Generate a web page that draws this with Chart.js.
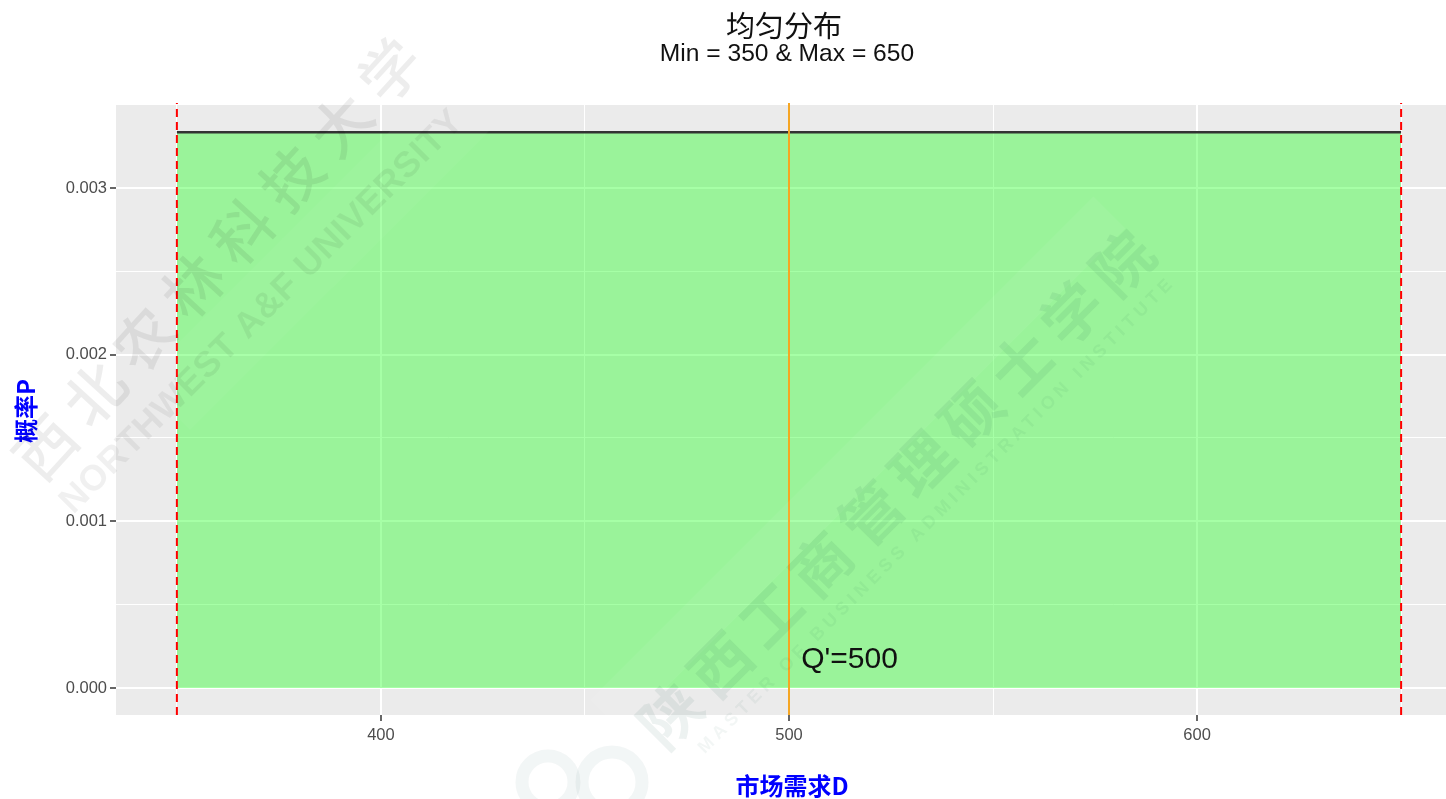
<!DOCTYPE html>
<html>
<head>
<meta charset="utf-8">
<style>
  body { margin: 0; background: #fff; }
  canvas { display: block; }
</style>
<script src="https://cdn.jsdelivr.net/npm/chart.js@4"></script>
</head>
<body>
<canvas id="uniform" width="1446" height="799"></canvas>
<script>
// data
let densityX = [350, 650]
let densityY = [0.003335, 0.003335]
let minLineX = [350, 350]
let maxLineX = [650, 650]
let orderLineX = [500, 500]
let lineY = [-0.000162, 0.00351]
let xTicks = [350, 400, 450, 500, 550, 600, 650]
let xLabels = ['', '400', '', '500', '', '600', '']
let yTicks = [0, 0.0005, 0.001, 0.0015, 0.002, 0.0025, 0.003]
let yLabels = ['0.000', '', '0.001', '', '0.002', '', '0.003']

const latin = '"Liberation Sans", Arial, sans-serif'
const cjk = '"Noto Sans CJK SC", "Liberation Sans", sans-serif'

function toPoints(xs, ys) {
  return xs.map((x, i) => ({ x: x, y: ys[i] }))
}

function rotatedText(ctx, text, x, y, angle, font, color, spacing) {
  ctx.save()
  ctx.translate(x, y)
  ctx.rotate(angle)
  ctx.font = font
  ctx.fillStyle = color
  ctx.letterSpacing = spacing || '0px'
  ctx.textAlign = 'center'
  ctx.textBaseline = 'middle'
  ctx.fillText(text, 0, 0)
  ctx.restore()
}

// grey ggplot panel behind the grid
let panel = {
  id: 'panel',
  beforeDraw(chart) {
    let a = chart.chartArea
    chart.ctx.fillStyle = '#EBEBEB'
    chart.ctx.fillRect(a.left, a.top, a.right - a.left, a.bottom - a.top)
  }
}

// titles and the Q' label
let labels = {
  id: 'labels',
  afterDatasetsDraw(chart) {
    let ctx = chart.ctx
    let x = chart.scales.x
    let y = chart.scales.y
    rotatedText(ctx, '均匀分布', 784, 26, 0, '29px ' + cjk, '#111')
    rotatedText(ctx, 'Min = 350 & Max = 650', 787, 54, 0, '24.6px ' + latin, '#111')
    rotatedText(ctx, '市场需求D', 792, 786, 0, 'bold 24px ' + cjk, '#0000FF')
    rotatedText(ctx, '概率P', 26, 411, -Math.PI / 2, 'bold 24px ' + cjk, '#0000FF')
    ctx.save()
    ctx.font = '30px ' + latin
    ctx.fillStyle = '#111'
    ctx.textBaseline = 'alphabetic'
    ctx.fillText("Q'=500", x.getPixelForValue(503), y.getPixelForValue(0.00012))
    ctx.restore()
  }
}

// faint school watermark lying over the whole picture
let watermark = {
  id: 'watermark',
  afterDraw(chart) {
    let ctx = chart.ctx
    let angle = -Math.PI / 4
    ctx.save()
    ctx.fillStyle = 'rgba(255,255,255,0.06)'
    ctx.translate(590, 700)
    ctx.rotate(angle)
    ctx.fillRect(0, 0, 712, 45)
    ctx.restore()
    ctx.save()
    ctx.fillStyle = 'rgba(255,255,255,0.04)'
    ctx.translate(190, 430)
    ctx.rotate(angle)
    ctx.fillRect(0, -70, 424, 70)
    ctx.restore()
    rotatedText(ctx, '西北农林科技大学', 222, 254, -0.83, '500 60px ' + cjk, 'rgba(0,0,0,0.07)', '13px')
    rotatedText(ctx, 'NORTHWEST A&F UNIVERSITY', 262, 312, angle, 'bold 36px ' + latin, 'rgba(0,0,0,0.06)', '0.5px')
    rotatedText(ctx, '陕西工商管理硕士学院', 900, 485, angle, 'bold 60px ' + cjk, 'rgba(0,70,50,0.07)', '11px')
    rotatedText(ctx, 'MASTER OF BUSINESS ADMINISTRATION INSTITUTE', 937, 515, angle, 'bold 18px ' + latin, 'rgba(0,70,50,0.05)', '4.8px')
    ctx.strokeStyle = 'rgba(0,70,80,0.05)'
    ctx.lineWidth = 13
    ctx.beginPath()
    ctx.arc(548, 782, 26, 0, Math.PI * 2)
    ctx.stroke()
    ctx.beginPath()
    ctx.arc(612, 782, 30, 0, Math.PI * 2)
    ctx.stroke()
  }
}

let uniform = new Chart(document.querySelector('#uniform').getContext('2d'), {
  type: 'line',
  data: {
    datasets: [
      {
        data: toPoints(densityX, densityY),
        borderColor: '#333333',
        borderWidth: 2.5,
        backgroundColor: 'rgba(32,255,32,0.4)',
        fill: 'origin',
        pointRadius: 0,
        order: 3
      },
      {
        data: toPoints(minLineX, lineY),
        borderColor: '#FF0000',
        borderWidth: 2,
        borderDash: [8, 5],
        pointRadius: 0,
        clip: false,
        order: 2
      },
      {
        data: toPoints(maxLineX, lineY),
        borderColor: '#FF0000',
        borderWidth: 2,
        borderDash: [8, 5],
        pointRadius: 0,
        clip: false,
        order: 2
      },
      {
        data: toPoints(orderLineX, lineY),
        borderColor: '#F5A623',
        borderWidth: 2,
        pointRadius: 0,
        clip: false,
        order: 1
      }
    ]
  },
  options: {
    responsive: false,
    animation: false,
    layout: { padding: { top: 105, left: 0, right: 0, bottom: 0 } },
    plugins: {
      legend: { display: false },
      title: { display: false },
      tooltip: { enabled: false }
    },
    scales: {
      x: {
        type: 'linear',
        min: 335.08,
        max: 661,
        afterBuildTicks(scale) {
          scale.ticks = xTicks.map(v => ({ value: v }))
        },
        afterFit(scale) {
          scale.height = 84
        },
        border: { display: false },
        grid: {
          color: '#FFFFFF',
          lineWidth: c => (xLabels[xTicks.indexOf(c.tick.value)] ? 2 : 1),
          tickColor: c => (xLabels[xTicks.indexOf(c.tick.value)] ? '#333333' : 'rgba(0,0,0,0)'),
          tickWidth: 1.5,
          tickLength: 6
        },
        ticks: {
          autoSkip: false,
          maxRotation: 0,
          padding: 5,
          color: '#4D4D4D',
          font: { family: latin, size: 16.5 },
          callback: v => xLabels[xTicks.indexOf(v)]
        }
      },
      y: {
        min: -0.000162,
        max: 0.003498,
        afterBuildTicks(scale) {
          scale.ticks = yTicks.map(v => ({ value: v }))
        },
        afterFit(scale) {
          scale.width = 116
        },
        border: { display: false },
        grid: {
          color: '#FFFFFF',
          lineWidth: c => (yLabels[yTicks.indexOf(c.tick.value)] ? 2 : 1),
          tickColor: c => (yLabels[yTicks.indexOf(c.tick.value)] ? '#333333' : 'rgba(0,0,0,0)'),
          tickWidth: 1.5,
          tickLength: 6
        },
        ticks: {
          autoSkip: false,
          padding: 3,
          color: '#4D4D4D',
          font: { family: latin, size: 16.5 },
          callback: v => yLabels[yTicks.indexOf(v)]
        }
      }
    }
  },
  plugins: [panel, labels, watermark]
})
</script>
</body>
</html>
